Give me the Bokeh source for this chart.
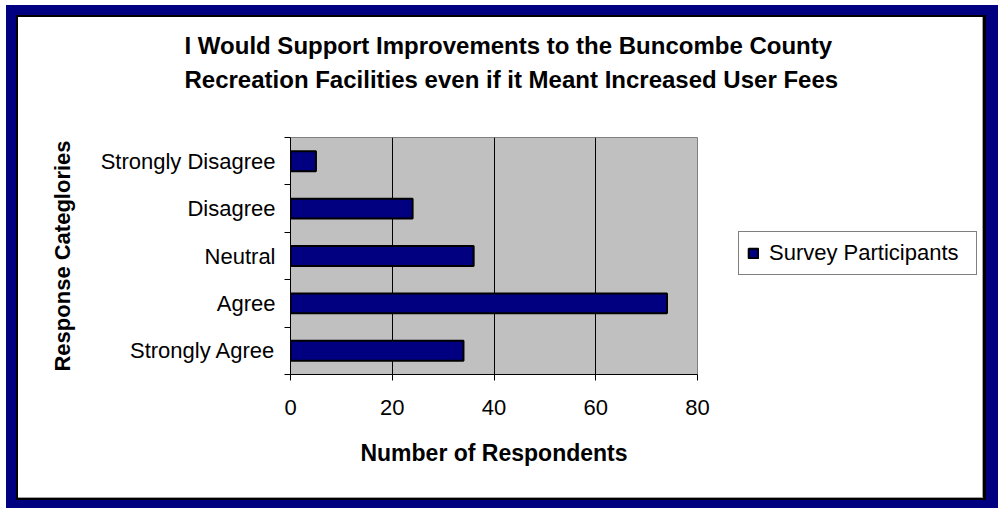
from bokeh.plotting import figure
from bokeh.models import (FactorRange, Range1d, LinearAxis, FixedTicker,
                          Legend, LegendItem, ColumnDataSource)
from bokeh.embed import file_html
from bokeh.resources import INLINE

# ---- data ----
categories = ["Strongly Agree", "Agree", "Neutral", "Disagree", "Strongly Disagree"]
respondents = [34, 74, 36, 24, 5]
x_ticks = [0, 20, 40, 60, 80]
series_name = "Survey Participants"
title_lines = ["I Would Support Improvements to the Buncombe County",
               "Recreation Facilities even if it Meant Increased User Fees"]
x_label = "Number of Respondents"
y_label = "Response Categlories"

FONT = "Liberation Sans"
NAVY = "#000080"

source = ColumnDataSource(dict(cat=categories, val=respondents))

# the page template has no body margin: canvas starts at the window corner
p = figure(y_range=FactorRange(factors=categories),
           x_range=Range1d(x_ticks[0], x_ticks[-1]),
           frame_width=407, frame_height=237,
           min_border_left=290, min_border_right=301,
           min_border_top=137, min_border_bottom=134,
           output_backend="svg", toolbar_location=None,
           y_axis_location=None,
           background_fill_color="#C0C0C0",
           border_fill_color="white", border_fill_alpha=0,
           outline_line_color="#808080", outline_line_width=1)

# navy chart-area frame with a thin black inner line (CSS inset shadows)
p.styles = {"background-color": "white",
            "max-width": "998px", "overflow": "hidden",
            "box-shadow": ("inset 6px 5px 0 0 #ffffff, "
                           "inset 16px 15px 0 0 #000080, inset -12px -8px 0 0 #000080, "
                           "inset 18px 17px 0 0 #000000, inset -15px -10px 0 0 #000000, "
                           "inset -16px -11px 0 0 #a0a0a0")}

# title (left-anchored with negative offset so it centres on the whole chart)
p.title.text = "\n".join(title_lines) + "\n"
p.title.align = "left"
p.title.offset = -106
p.title.text_font = FONT
p.title.text_font_size = "24px"
p.title.text_font_style = "bold"
p.title.text_color = "black"
p.title.text_line_height = 1.26
p.title.standoff = 20

# x axis
xa = p.xaxis[0]
xa.ticker = FixedTicker(ticks=x_ticks)
xa.major_tick_in = 0
xa.major_tick_out = 6
xa.minor_tick_line_color = None
xa.axis_line_color = "black"
xa.major_tick_line_color = "black"
xa.major_label_text_font = FONT
xa.major_label_text_font_size = "22px"
xa.major_label_text_color = "black"
xa.major_label_standoff = 19
xa.axis_label = x_label
xa.axis_label_text_font = FONT
xa.axis_label_text_font_size = "23px"
xa.axis_label_text_font_style = "bold"
xa.axis_label_text_color = "black"
xa.axis_label_standoff = 22

# y axis: labels at category centres, small ticks at category boundaries
n = len(categories)
centres = [i + 0.5 for i in range(n)]
bounds = list(range(n + 1))
ya = LinearAxis(ticker=FixedTicker(ticks=centres, minor_ticks=bounds),
                major_label_overrides=dict(zip(centres, categories)),
                major_tick_line_color=None, major_tick_in=0, major_tick_out=0,
                minor_tick_line_color="black", minor_tick_in=0, minor_tick_out=6,
                axis_line_color="black",
                major_label_text_font=FONT,
                major_label_text_font_size="22px",
                major_label_text_color="black",
                major_label_standoff=9,
                axis_label=y_label,
                axis_label_text_font=FONT,
                axis_label_text_font_size="22px",
                axis_label_text_font_style="bold",
                axis_label_text_color="black",
                axis_label_standoff=23)
p.add_layout(ya, "left")

# grid
p.xgrid.ticker = FixedTicker(ticks=x_ticks[1:-1])
p.xgrid.grid_line_color = "black"
p.xgrid.grid_line_width = 1
p.ygrid.visible = False

r = p.hbar(y="cat", left=0, right="val", height=0.42, source=source,
           fill_color=NAVY, line_color="black", line_width=2)

legend = Legend(items=[LegendItem(label=series_name, renderers=[r])],
                location=(41, 99),
                border_line_color="black", border_line_width=1,
                background_fill_color="white", background_fill_alpha=1,
                label_text_font=FONT, label_text_font_size="22px",
                label_text_color="black", label_width=199,
                glyph_width=12, glyph_height=12, label_standoff=10,
                padding=8, margin=0, spacing=0)
p.add_layout(legend, "right")

open("out.html", "w").write(file_html(p, INLINE))
